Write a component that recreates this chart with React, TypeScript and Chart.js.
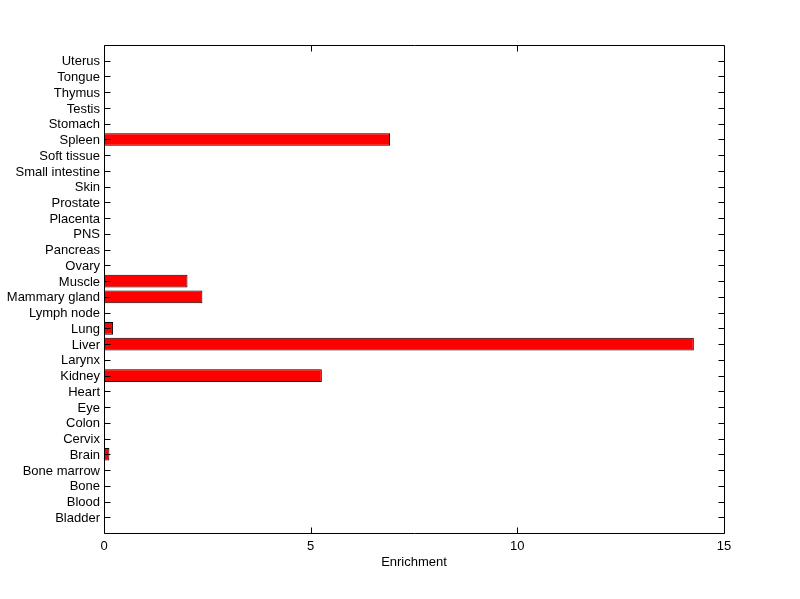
import React, { useEffect, useRef } from "react";
import { Chart, registerables } from "chart.js";

Chart.register(...registerables);

const categories = [
  "Uterus", "Tongue", "Thymus", "Testis", "Stomach", "Spleen", "Soft tissue",
  "Small intestine", "Skin", "Prostate", "Placenta", "PNS", "Pancreas", "Ovary",
  "Muscle", "Mammary gland", "Lymph node", "Lung", "Liver", "Larynx", "Kidney",
  "Heart", "Eye", "Colon", "Cervix", "Brain", "Bone marrow", "Bone", "Blood", "Bladder",
];

const enrichment = [
  0, 0, 0, 0, 0, 6.92, 0,
  0, 0, 0, 0, 0, 0, 0,
  2.02, 2.38, 0, 0.22, 14.27, 0, 5.27,
  0, 0, 0, 0, 0.13, 0, 0, 0, 0,
];

const xTicks = [0, 5, 10, 15];
const xTitle = "Enrichment";

const FONT = "'Liberation Sans', Arial, Helvetica, sans-serif";

const framePlugin = {
  id: "frameTicks",
  afterDraw(chart: any) {
    const { ctx, chartArea } = chart;
    const { left, right, top, bottom } = chartArea;
    const xs = chart.scales.x;
    const ys = chart.scales.y;
    ctx.save();
    ctx.strokeStyle = "#000";
    ctx.lineWidth = 1;
    ctx.beginPath();
    const L = Math.round(left) + 0.5;
    const R = Math.round(right) + 0.5;
    const T = Math.round(top) + 0.5;
    const B = Math.round(bottom) + 0.5;
    ctx.rect(L, T, R - L, B - T);
    const tl = 6;
    for (let i = 1; i <= categories.length; i++) {
      const y = Math.round(ys.getPixelForValue(i)) + 0.5;
      ctx.moveTo(L, y);
      ctx.lineTo(L + tl, y);
      ctx.moveTo(R, y);
      ctx.lineTo(R - tl, y);
    }
    for (const v of xTicks) {
      const x = Math.round(xs.getPixelForValue(v)) + 0.5;
      ctx.moveTo(x, B);
      ctx.lineTo(x, B - tl);
      ctx.moveTo(x, T);
      ctx.lineTo(x, T + tl);
    }
    ctx.stroke();
    ctx.restore();
  },
};

export default function App() {
  const ref = useRef<HTMLCanvasElement | null>(null);
  useEffect(() => {
    if (!ref.current) return;
    const labels = ["", ...categories, ""];
    const data = [null, ...enrichment, null];
    const chart = new Chart(ref.current, {
      type: "bar",
      data: {
        labels,
        datasets: [
          {
            data: data as any,
            backgroundColor: "#ff0000",
            borderColor: "#000000",
            borderWidth: 1,
            borderSkipped: false,
            barPercentage: 0.8,
            categoryPercentage: 1,
          },
        ],
      },
      options: {
        indexAxis: "y",
        animation: false,
        responsive: false,
        maintainAspectRatio: false,
        events: [],
        layout: { padding: { left: 0, right: 76, top: 45, bottom: 0 } },
        plugins: {
          legend: { display: false },
          tooltip: { enabled: false },
        },
        scales: {
          y: {
            type: "category",
            offset: false,
            grid: { display: false, drawTicks: false },
            border: { display: false },
            afterFit: (s: any) => {
              s.width = 104;
            },
            ticks: {
              color: "#000",
              padding: 4,
              labelOffset: 1,
              autoSkip: false,
              font: { family: FONT, size: 13 },
              callback: (v: any, i: number) => labels[i],
            },
          },
          x: {
            type: "linear",
            min: 0,
            max: 15,
            grid: { display: false, drawTicks: false },
            border: { display: false },
            afterFit: (s: any) => {
              s.height = 66;
            },
            afterBuildTicks: (s: any) => {
              s.ticks = xTicks.map((v) => ({ value: v }));
            },
            ticks: {
              color: "#000",
              padding: 6,
              font: { family: FONT, size: 13 },
            },
            title: {
              display: true,
              text: xTitle,
              color: "#000",
              padding: { top: 2, bottom: 29 },
              font: { family: FONT, size: 13 },
            },
          },
        },
      },
      plugins: [framePlugin],
    });
    return () => chart.destroy();
  }, []);
  return (
    <div style={{ position: "fixed", left: 0, top: 0, width: 800, height: 599, background: "#fff" }}>
      <canvas ref={ref} width={800} height={599} style={{ width: 800, height: 599, display: "block" }} />
    </div>
  );
}
